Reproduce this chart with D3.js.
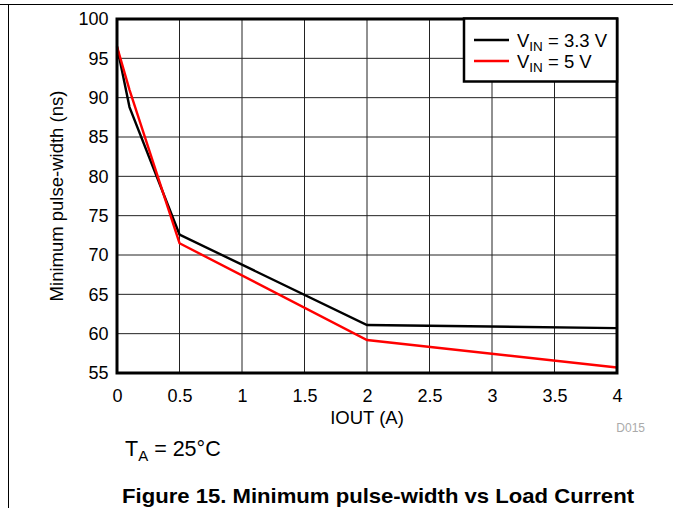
<!DOCTYPE html>
<html><head><meta charset="utf-8">
<script src="https://cdn.jsdelivr.net/npm/d3@7"></script>
<style>body{margin:0;background:#fff}svg{display:block;font-family:"Liberation Sans",Arial,sans-serif}</style>
</head><body><svg id="c" width="673" height="508"></svg>
<script>
const xTicks = [0, 0.5, 1, 1.5, 2, 2.5, 3, 3.5, 4];
const yTicks = [55, 60, 65, 70, 75, 80, 85, 90, 95, 100];
const iout = [0, 0.1, 0.5, 2, 4];
const vin33 = [96.5, 88.8, 72.6, 61.1, 60.7];
const vin5 = [96.5, 91.0, 71.5, 59.2, 55.7];
const seriesNames = ["3.3 V", "5 V"];
const seriesColors = ["#000000", "#ff0000"];

const FONT = "Liberation Sans, Arial, sans-serif";
const svg = d3.select("#c");
const L = 117, R = 617, T = 19, B = 373;
const x = d3.scaleLinear().domain([0, 4]).range([L, R]);
const y = d3.scaleLinear().domain([55, 100]).range([B, T]);

// outer frame
svg.append("line").attr("x1", 0).attr("x2", 673).attr("y1", 4.5).attr("y2", 4.5).attr("stroke", "#000").attr("stroke-width", 1);
svg.append("line").attr("x1", 8.5).attr("x2", 8.5).attr("y1", 4).attr("y2", 508).attr("stroke", "#000").attr("stroke-width", 1);

// grid
const g = svg.append("g");
g.selectAll(".vg").data(xTicks).join("line").attr("x1", d => x(d)).attr("x2", d => x(d)).attr("y1", T).attr("y2", B).attr("stroke", "#222").attr("stroke-width", 1);
g.selectAll(".hg").data(yTicks).join("line").attr("x1", L).attr("x2", R).attr("y1", d => y(d)).attr("y2", d => y(d)).attr("stroke", "#222").attr("stroke-width", 1);

// axes tick labels
const xa = svg.append("g").attr("transform", `translate(0,${B})`).call(d3.axisBottom(x).tickValues(xTicks).tickSize(0).tickPadding(16).tickFormat(d3.format("")));
xa.attr("font-family", FONT).attr("font-size", 18);
xa.select(".domain").remove();
xa.selectAll("text").attr("fill", "#000");
const ya = svg.append("g").attr("transform", `translate(${L},0)`).call(d3.axisLeft(y).tickValues(yTicks).tickSize(0).tickPadding(8.5).tickFormat(d3.format("")));
ya.attr("font-family", FONT).attr("font-size", 18);
ya.select(".domain").remove();
ya.selectAll("text").attr("fill", "#000");

// series
const line = d3.line().x(d => x(d[0])).y(d => y(d[1]));
[vin33, vin5].forEach((vals, i) => {
  svg.append("path").datum(iout.map((v, j) => [v, vals[j]])).attr("d", line)
    .attr("fill", "none").attr("stroke", seriesColors[i]).attr("stroke-width", 2.4).attr("stroke-linejoin", "miter");
});

// plot border
svg.append("rect").attr("x", L).attr("y", T).attr("width", R - L).attr("height", B - T).attr("fill", "none").attr("stroke", "#000").attr("stroke-width", 3);

// legend
const lg = svg.append("g");
lg.append("rect").attr("x", 464).attr("y", 18.5).attr("width", 153).attr("height", 63).attr("fill", "#fff").attr("stroke", "#000").attr("stroke-width", 2.5);
seriesNames.forEach((n, i) => {
  const yy = 40 + i * 21;
  lg.append("line").attr("x1", 474).attr("x2", 509).attr("y1", yy).attr("y2", yy).attr("stroke", seriesColors[i]).attr("stroke-width", 2.4);
  const t = lg.append("text").attr("x", 517).attr("y", yy + 7).attr("font-size", 18.5).attr("fill", "#000");
  t.append("tspan").text("V");
  t.append("tspan").attr("font-size", 13.5).attr("dy", 4).text("IN");
  t.append("tspan").attr("dy", -4).text(" = " + n);
});

// axis titles
svg.append("text").attr("transform", `translate(62.7,${(T + B) / 2}) rotate(-90)`).attr("text-anchor", "middle").attr("font-size", 18.5).text("Minimum pulse-width (ns)");
svg.append("text").attr("x", (L + R) / 2).attr("y", 424).attr("text-anchor", "middle").attr("font-size", 18.5).text("IOUT (A)");
svg.append("text").attr("x", 645).attr("y", 432).attr("text-anchor", "end").attr("font-size", 12).attr("fill", "#aaa").text("D015");

const ta = svg.append("text").attr("x", 125).attr("y", 456).attr("font-size", 21.5);
ta.append("tspan").text("T");
ta.append("tspan").attr("font-size", 15).attr("dy", 5).text("A");
ta.append("tspan").attr("dy", -5).text(" = 25°C");

svg.append("text").attr("x", 378).attr("y", 503).attr("text-anchor", "middle").attr("font-size", 21).attr("font-weight", "bold")
  .attr("textLength", 512).attr("lengthAdjust", "spacingAndGlyphs").text("Figure 15. Minimum pulse-width vs Load Current");
</script></body></html>
